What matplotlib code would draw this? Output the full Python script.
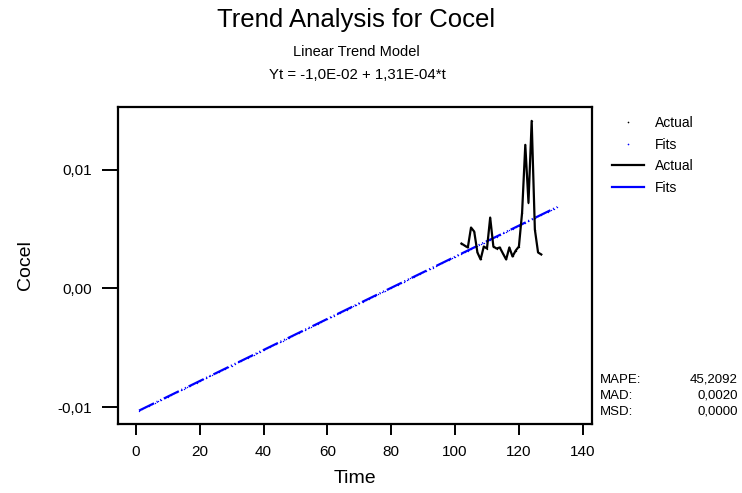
import matplotlib
matplotlib.use("Agg")
import matplotlib.pyplot as plt
import numpy as np
from matplotlib.lines import Line2D
from matplotlib.ticker import FuncFormatter

plt.rcParams['font.family'] = ['Liberation Sans', 'DejaVu Sans']

# Observed series (only the later periods are available)
t_actual = np.arange(102, 128)
actual = [0.00378, 0.00361, 0.00345, 0.00513, 0.00479, 0.00303, 0.00244,
          0.00353, 0.00336, 0.00597, 0.00353, 0.00336, 0.00345, 0.00294,
          0.00244, 0.00345, 0.00269, 0.00319, 0.00353, 0.00639, 0.01210,
          0.00723, 0.01412, 0.00496, 0.00303, 0.00286]

# Linear trend fit Yt = b0 + b1*t over the whole index range
b0 = -0.01043
b1 = 0.000131
t_fit = np.arange(1, 133)
fits = b0 + b1 * t_fit

x_ticks = [0, 20, 40, 60, 80, 100, 120, 140]
y_ticks = [-0.01, 0.0, 0.01]

stat_names = ['MAPE:', 'MAD:', 'MSD:']
stat_values = ['45,2092', '0,0020', '0,0000']

fig = plt.figure(figsize=(7.42, 4.93), dpi=100)
ax = fig.add_axes([118 / 742, 1 - 424 / 493, (592 - 118) / 742, (424 - 107) / 493])

ax.plot(t_fit, fits, color='#0000ff', lw=1.6, linestyle=(0, (7.5, 1.3, 0.5, 1.3, 0.5, 1.3)))
ax.plot(t_fit, fits, linestyle='none', marker='o', ms=1.0, mew=0, color='#0000ff')
ax.plot(t_actual, actual, color='black', lw=1.6)
ax.plot(t_actual, actual, linestyle='none', marker='o', ms=1.0, mew=0, color='black')

ax.set_xlim(-5.6, 142.9)
ax.set_ylim(-0.01143, 0.01529)
ax.set_xticks(x_ticks)
ax.set_yticks(y_ticks)
ax.yaxis.set_major_formatter(FuncFormatter(lambda v, p: f'{v:.2f}'.replace('.', ',').replace('-0,00', '0,00')))

for s in ax.spines.values():
    s.set_linewidth(1.6)
ax.tick_params(axis='y', direction='out', length=11.5, width=1.4, pad=7, labelsize=11)
ax.tick_params(axis='x', direction='out', length=8, width=1.4, pad=7, labelsize=11)

ax.set_xlabel('Time', fontsize=14, labelpad=8)
ax.set_ylabel('Cocel', fontsize=14, labelpad=17)

# Titles
fig.text(356 / 742, 1 - 20 / 493, 'Trend Analysis for Cocel', ha='center', va='center', fontsize=18.5)
fig.text(356 / 742, 1 - 52 / 493, 'Linear Trend Model', ha='center', va='center', fontsize=10.5)
fig.text(357 / 742, 1 - 75 / 493, 'Yt = -1,0E-02 + 1,31E-04*t', ha='center', va='center', fontsize=10.8)

# Legend
handles = [
    Line2D([], [], linestyle='none', marker='o', ms=1.2, mew=0, color='black'),
    Line2D([], [], linestyle='none', marker='o', ms=1.2, mew=0, color='#0000ff'),
    Line2D([], [], color='black', lw=1.6),
    Line2D([], [], color='#0000ff', lw=1.6),
]
fig.legend(handles, ['Actual', 'Fits', 'Actual', 'Fits'], loc='upper left',
           bbox_to_anchor=(605 / 742, 1 - 109 / 493), frameon=False, fontsize=10,
           handlelength=2.3, handletextpad=0.8, labelspacing=0.55, borderpad=0)

# Accuracy measures
for i, (name, val) in enumerate(zip(stat_names, stat_values)):
    y = 1 - (380 + 16 * i) / 493
    fig.text(600 / 742, y, name, ha='left', va='center', fontsize=9.5)
    fig.text(738 / 742, y, val, ha='right', va='center', fontsize=9.5)

plt.savefig('out.png', dpi=100)
plt.close()
